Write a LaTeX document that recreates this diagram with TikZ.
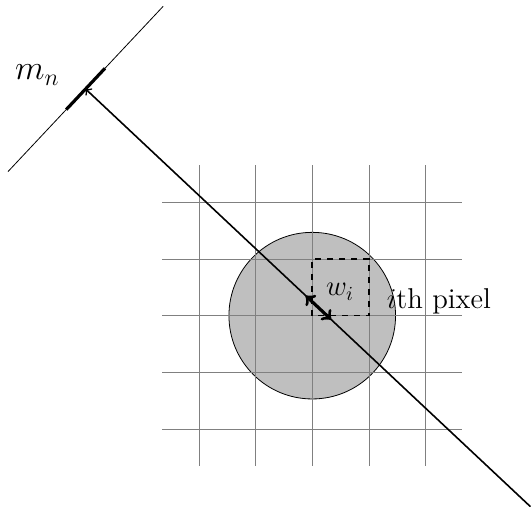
\documentclass[tikz,border=0pt]{standalone}
\usetikzlibrary{calc}
\begin{document}
\begin{tikzpicture}[font=\Large, >=to]
  \useasboundingbox (-5.51,-3.37) rectangle (3.86,5.57);
  \filldraw[fill=lightgray] (0,0) circle (1.47);
  \foreach \k in {-2,...,2} {
    \draw[gray] (\k,-2.65) -- (\k,2.65);
    \draw[gray] (-2.65,\k) -- (2.65,\k);
  }
  \draw[thick, dashed] (0,0) rectangle (1,1);
  \coordinate (det) at (-4,4);
  \coordinate (far) at (3.85,-3.37);
  \draw ($(det)!2cm!90:(far)$) -- ($(det)!2cm!-90:(far)$);
  \draw[ultra thick] ($(det)!0.5cm!90:(far)$) -- ($(det)!0.5cm!-90:(far)$);
  \draw[->, thick] (far) -- (det);
  \draw[<->, ultra thick] ($(det)!0.495!(far)$) -- ($(det)!0.552!(far)$);
  \node[anchor=base, inner sep=0, font=\LARGE] (mn) at (-4.85,4.16) {$m_n$};
  \node[anchor=base, inner sep=0] (wi) at (0.49,0.35) {$w_i$};
  \node[anchor=base west, inner sep=0] (pix) at (1.31,0.12) {$i$th pixel};
\end{tikzpicture}
\end{document}
